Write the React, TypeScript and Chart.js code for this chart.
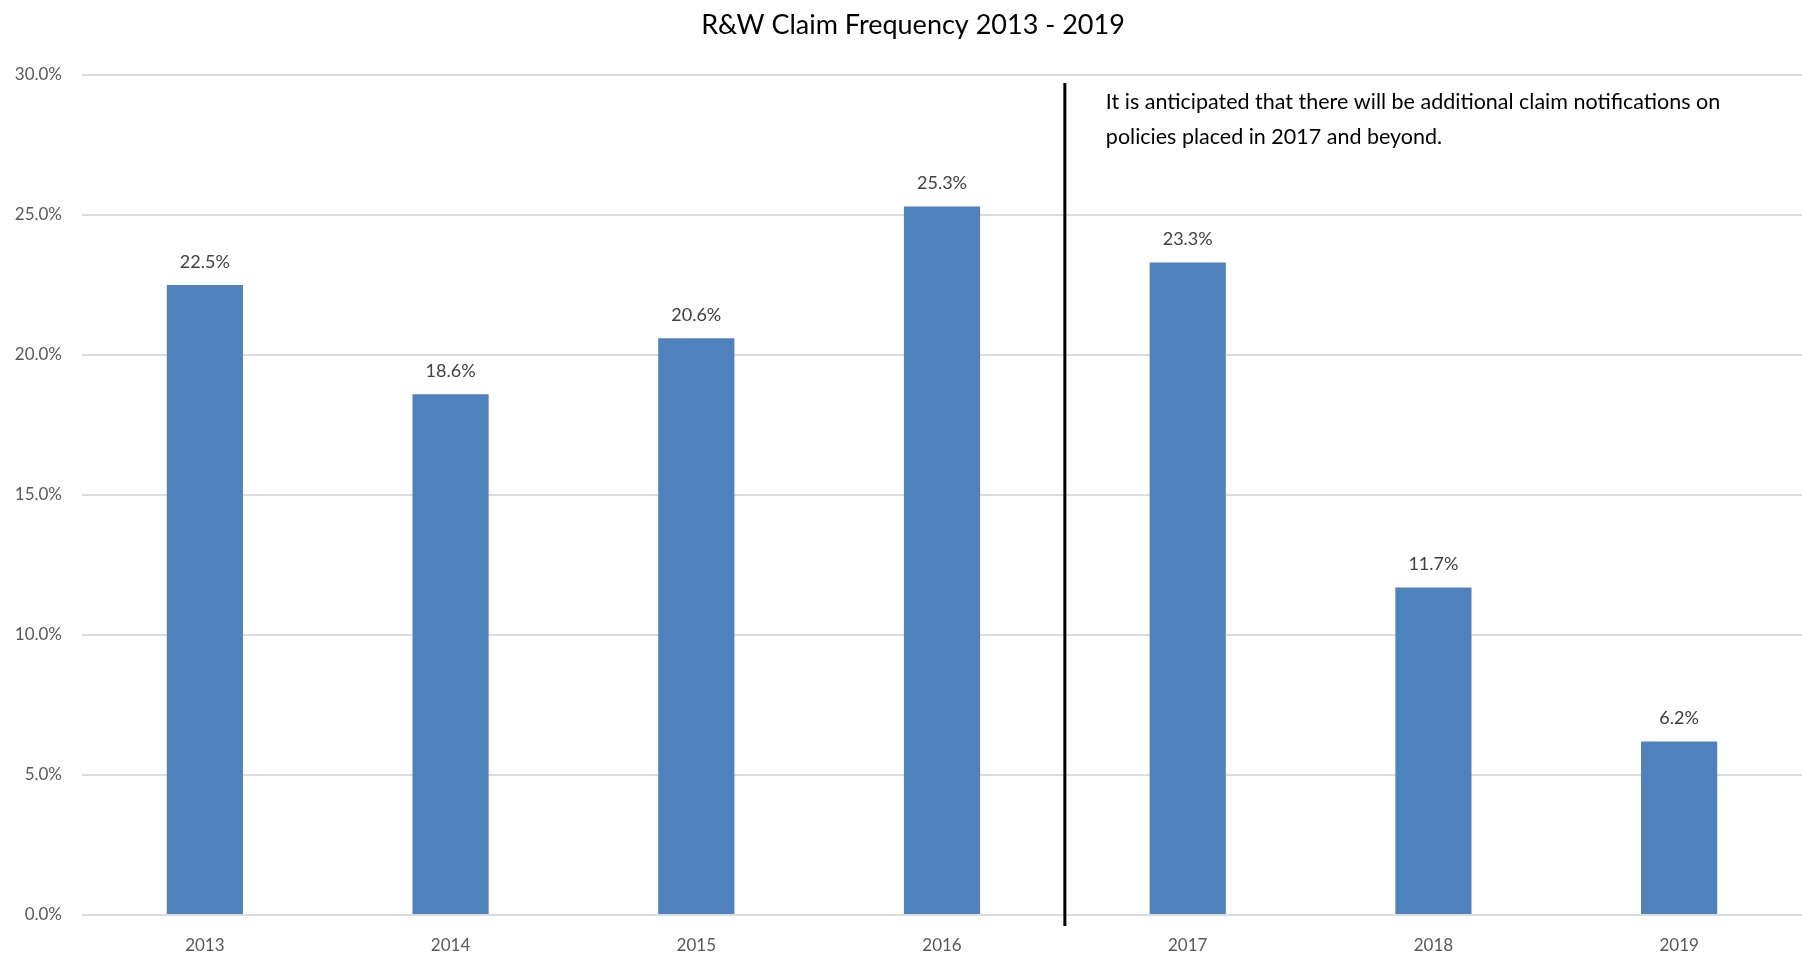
import React, { useEffect, useRef } from "react";
import { Chart, registerables } from "chart.js";

Chart.register(...registerables);

const categories = ["2013", "2014", "2015", "2016", "2017", "2018", "2019"];
const frequency = [22.5, 18.6, 20.6, 25.3, 23.3, 11.7, 6.2];
const yTicks = [0, 5, 10, 15, 20, 25, 30];
const titleText = "R&W Claim Frequency 2013 - 2019";
const noteLines = [
  "It is anticipated that there will be additional claim notifications on",
  "policies placed in 2017 and beyond.",
];

const FONT = "Lato, 'Liberation Sans', sans-serif";

const overlayPlugin = {
  id: "overlay",
  afterDatasetsDraw(chart: any) {
    const { ctx, chartArea, scales } = chart;
    const meta = chart.getDatasetMeta(0);
    ctx.save();
    // data labels
    ctx.font = `18px ${FONT}`;
    ctx.fillStyle = "#404040";
    ctx.textAlign = "center";
    ctx.textBaseline = "middle";
    meta.data.forEach((bar: any, i: number) => {
      ctx.fillText(`${frequency[i].toFixed(1)}%`, bar.x, bar.y - 23);
    });
    // divider line between 2016 and 2017
    const x = (scales.x.getPixelForValue(3) + scales.x.getPixelForValue(4)) / 2;
    ctx.strokeStyle = "#000000";
    ctx.lineWidth = 3;
    ctx.beginPath();
    ctx.moveTo(x, chartArea.top + 8);
    ctx.lineTo(x, chartArea.bottom + 11);
    ctx.stroke();
    // note
    ctx.font = `21.5px ${FONT}`;
    ctx.fillStyle = "#000000";
    ctx.textAlign = "left";
    noteLines.forEach((t, i) => {
      ctx.fillText(t, x + 41, chartArea.top + 27 + i * 35);
    });
    // title
    ctx.font = `27px ${FONT}`;
    ctx.fillStyle = "#000000";
    ctx.textAlign = "center";
    ctx.fillText(titleText, 913, 25);
    ctx.restore();
  },
};

export default function App() {
  const ref = useRef<HTMLCanvasElement | null>(null);
  useEffect(() => {
    document.body.style.margin = "0";
    const chart = new Chart(ref.current as HTMLCanvasElement, {
      type: "bar",
      data: {
        labels: categories,
        datasets: [
          {
            data: frequency,
            backgroundColor: "#4F81BD",
            barPercentage: 0.31,
            categoryPercentage: 1,
          },
        ],
      },
      options: {
        animation: false,
        responsive: false,
        layout: { padding: { top: 75, left: 0, right: 0, bottom: 0 } },
        plugins: { legend: { display: false }, tooltip: { enabled: false }, title: { display: false } },
        scales: {
          x: {
            grid: { display: false, drawTicks: false },
            border: { display: false },
            ticks: { color: "#595959", font: { size: 17, family: FONT }, padding: 20 },
            afterFit: (s: any) => {
              s.height = 42;
            },
          },
          y: {
            min: 0,
            max: 30,
            afterBuildTicks: (s: any) => {
              s.ticks = yTicks.map((v) => ({ value: v }));
            },
            grid: { color: "#DCDCDC", lineWidth: 2, drawTicks: false },
            border: { display: false },
            ticks: {
              color: "#595959",
              font: { size: 17, family: FONT },
              padding: 20,
              callback: (v: any) => `${Number(v).toFixed(1)}%`,
            },
            afterFit: (s: any) => {
              s.width = 82;
            },
          },
        },
      },
      plugins: [overlayPlugin],
    });
    return () => chart.destroy();
  }, []);
  return (
    <div style={{ width: 1802, height: 957 }}>
      <canvas ref={ref} width={1802} height={957} style={{ display: "block" }} />
    </div>
  );
}
